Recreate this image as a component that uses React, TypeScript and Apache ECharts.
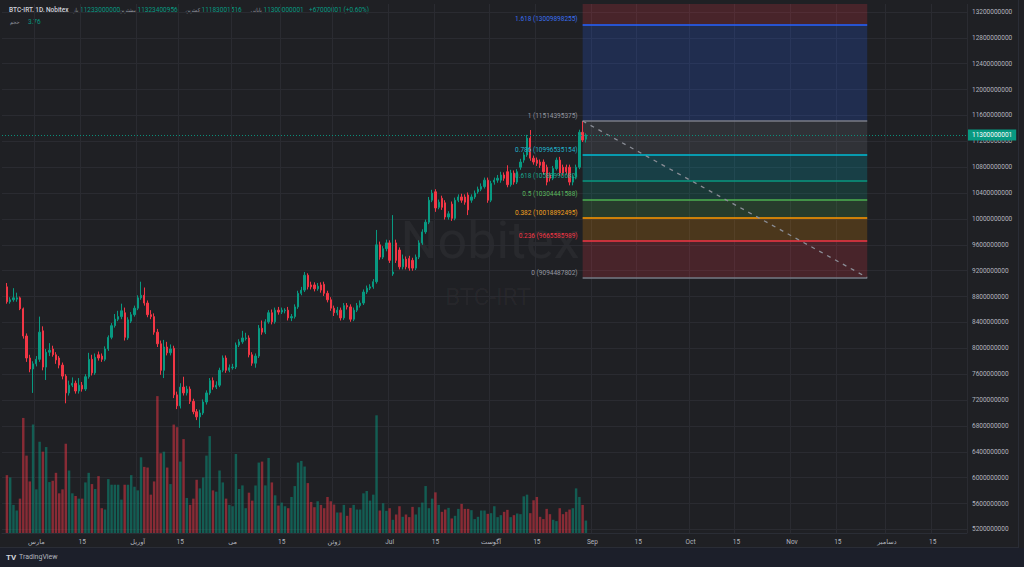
import React, { useEffect, useRef } from 'react';
import * as echarts from 'echarts';

// ---------- DATA ----------
const PRICE_UNIT = 1e8; // OHLC arrays are in units of 100,000,000 IRT

const opens = [
  89.5, 87.2, 87.5, 87.6, 87.8, 86.1, 81.9, 78.5, 76.8, 77.6,
  78.3, 82.7, 77.1, 79.4, 79.9, 79.0, 78.5, 77.4, 75.7, 73.1,
  74.3, 74.6, 73.4, 74.3, 73.7, 75.6, 78.3, 76.2, 79.0, 78.8,
  78.3, 79.9, 81.7, 83.5, 84.5, 84.9, 85.5, 81.6, 84.2, 85.2,
  86.2, 87.8, 88.2, 87.0, 85.2, 84.9, 82.5, 80.7, 76.6, 80.2,
  79.3, 80.0, 72.8, 71.1, 74.0, 73.1, 73.7, 71.8, 70.2, 69.4,
  70.0, 71.7, 73.1, 75.0, 74.0, 74.3, 76.6, 78.5, 76.6, 77.0,
  77.1, 80.5, 81.0, 81.5, 81.6, 79.0, 77.7, 78.8, 83.1, 82.5,
  84.1, 85.5, 84.1, 85.9, 85.6, 85.8, 85.9, 84.7, 84.9, 86.4,
  88.5, 89.0, 91.3, 89.8, 89.8, 89.2, 89.8, 89.9, 88.5, 87.5,
  86.2, 85.5, 85.9, 84.7, 86.6, 86.4, 84.5, 85.9, 86.6, 87.0,
  88.7, 89.3, 89.5, 90.3, 96.0, 94.1, 95.4, 96.3, 91.5, 96.3,
  95.2, 92.6, 93.8, 93.9, 93.6, 92.4, 94.1, 96.3, 98.0, 99.5,
  102.9, 104.2, 101.8, 103.2, 102.5, 100.3, 102.3, 100.1, 102.9, 103.4,
  103.4, 103.7, 102.9, 103.4, 104.2, 104.6, 105.0, 106.0, 102.9, 105.7,
  106.0, 106.0, 106.8, 107.3, 105.3, 107.1, 105.7, 108.0, 109.1, 109.9,
  112.5, 109.4, 109.1, 108.8, 108.8, 108.0, 106.8, 106.3, 107.8, 109.1,
  108.0, 108.0, 108.0, 105.7, 106.5, 108.0, 113.4, 112.33,
];

const closes = [
  87.2, 87.5, 87.8, 87.8, 86.1, 81.9, 78.5, 76.8, 77.6, 78.3,
  82.5, 77.1, 79.4, 79.7, 79.0, 78.2, 77.4, 75.7, 73.1, 74.3,
  74.6, 73.4, 74.3, 73.7, 75.6, 78.3, 76.2, 78.6, 78.5, 78.3,
  79.9, 81.7, 83.5, 84.5, 84.9, 85.8, 81.7, 84.4, 85.2, 86.2,
  87.8, 88.2, 87.0, 85.2, 84.9, 82.5, 80.7, 76.6, 80.2, 79.3,
  79.9, 72.8, 71.1, 74.0, 73.1, 73.7, 71.8, 70.2, 69.4, 70.0,
  71.7, 73.1, 75.0, 74.0, 74.3, 76.6, 78.5, 76.6, 77.0, 77.1,
  80.5, 81.0, 81.6, 81.6, 79.0, 77.7, 78.8, 83.1, 82.5, 84.1,
  85.5, 84.1, 85.9, 85.6, 85.9, 85.9, 84.7, 84.9, 86.4, 88.5,
  89.0, 91.3, 89.5, 89.5, 89.2, 89.6, 89.0, 88.5, 87.5, 86.2,
  85.5, 85.9, 84.7, 86.6, 86.4, 84.5, 85.9, 86.6, 87.0, 88.7,
  89.3, 89.5, 90.3, 96.0, 94.1, 95.4, 96.3, 93.6, 91.8, 93.6,
  92.6, 93.8, 92.6, 92.4, 92.4, 94.1, 96.3, 98.0, 99.5, 102.9,
  104.0, 101.7, 102.6, 101.8, 100.3, 100.8, 100.1, 102.9, 103.4, 102.9,
  102.6, 101.4, 103.4, 104.0, 104.6, 105.0, 106.0, 102.9, 105.5, 106.0,
  106.3, 106.8, 106.3, 105.3, 107.1, 105.7, 107.3, 108.8, 109.9, 112.5,
  109.4, 108.8, 108.6, 108.3, 107.3, 105.7, 106.3, 107.8, 109.1, 107.1,
  107.1, 107.3, 105.7, 106.5, 108.0, 113.4, 112.2, 113.00000001,
];

const lows = [
  86.9, 86.9, 87.2, 87.2, 85.9, 81.5, 77.9, 76.3, 73.1, 77.2,
  77.9, 76.6, 75.1, 78.8, 78.7, 77.6, 76.9, 75.2, 71.5, 72.7,
  74.0, 73.0, 73.0, 73.3, 73.4, 75.3, 75.8, 75.9, 78.1, 77.9,
  78.0, 79.6, 81.4, 83.2, 84.2, 84.5, 81.2, 81.3, 83.9, 84.9,
  85.9, 87.5, 86.6, 84.8, 84.5, 82.1, 80.2, 75.9, 75.4, 78.9,
  78.9, 72.3, 70.6, 70.7, 72.7, 72.7, 71.4, 69.8, 68.9, 67.7,
  69.7, 71.3, 72.8, 73.6, 73.7, 74.0, 76.3, 76.2, 76.3, 76.7,
  76.8, 80.2, 80.7, 81.2, 78.6, 77.3, 77.0, 78.5, 82.1, 82.2,
  83.8, 83.7, 83.8, 85.2, 85.3, 85.4, 84.3, 84.2, 84.6, 86.1,
  88.2, 88.7, 89.1, 89.1, 88.8, 88.9, 88.6, 88.1, 87.1, 85.8,
  85.0, 85.1, 84.3, 84.4, 86.0, 84.1, 84.2, 85.6, 86.3, 86.7,
  88.4, 89.0, 89.2, 90.0, 93.7, 93.8, 95.0, 93.2, 91.2, 93.2,
  92.2, 92.2, 92.2, 92.0, 92.0, 92.1, 93.8, 96.0, 97.7, 99.2,
  102.6, 101.1, 101.5, 101.4, 99.9, 99.9, 99.7, 99.8, 102.6, 102.5,
  102.2, 100.6, 102.5, 103.1, 103.9, 104.3, 104.7, 102.5, 102.6, 105.3,
  105.6, 105.6, 105.9, 104.9, 105.0, 105.3, 105.4, 107.6, 108.7, 109.6,
  109.0, 108.4, 108.2, 107.9, 106.9, 105.2, 105.8, 106.0, 107.5, 106.7,
  106.7, 106.9, 105.2, 105.2, 106.2, 107.7, 111.9, 111.83001516,
];

const highs = [
  90.1, 87.9, 89.3, 88.6, 88.0, 86.3, 82.3, 79.0, 78.0, 78.8,
  84.9, 83.4, 79.9, 80.8, 80.4, 79.4, 78.8, 77.8, 76.0, 75.0,
  75.5, 75.0, 75.4, 74.8, 76.0, 79.3, 79.0, 79.2, 79.5, 79.2,
  80.3, 82.0, 83.9, 85.3, 85.8, 86.9, 86.3, 84.8, 85.6, 86.6,
  88.2, 90.3, 89.4, 87.4, 85.9, 85.4, 83.0, 81.2, 81.3, 81.0,
  80.6, 80.4, 73.3, 74.6, 75.6, 74.2, 74.1, 72.2, 70.6, 70.5,
  72.1, 73.5, 75.4, 75.5, 74.9, 77.0, 78.9, 78.9, 77.5, 77.6,
  80.9, 81.4, 82.7, 82.4, 82.0, 79.4, 79.2, 83.6, 84.3, 84.5,
  85.9, 86.0, 86.3, 86.4, 86.3, 86.2, 86.4, 85.3, 86.8, 88.9,
  89.5, 91.8, 91.6, 90.3, 90.2, 90.1, 90.2, 90.3, 88.9, 87.9,
  86.6, 86.4, 86.3, 87.0, 87.0, 86.8, 86.3, 87.0, 87.4, 89.1,
  89.7, 89.9, 90.7, 98.3, 96.5, 95.8, 96.8, 96.7, 100.6, 96.8,
  95.6, 94.5, 94.2, 94.3, 94.0, 94.5, 96.7, 98.4, 99.9, 103.4,
  104.5, 104.6, 103.0, 103.6, 102.9, 101.2, 102.7, 103.3, 103.8, 103.9,
  103.8, 104.1, 103.8, 104.4, 105.0, 105.5, 106.4, 106.4, 105.9, 106.4,
  106.8, 107.3, 107.2, 108.3, 107.6, 107.5, 107.7, 109.3, 110.3, 113.0,
  113.75, 109.8, 109.5, 109.2, 109.2, 108.4, 107.2, 108.2, 109.5, 109.6,
  108.4, 108.4, 108.4, 106.9, 108.4, 113.8, 115.14395375, 113.23400956,
];

const volumes = [
  17.5, 16.8, 8.5, 6.8, 10.4, 34.8, 23.4, 15.6, 32.8, 13.2,
  27.6, 24.6, 26.0, 15.4, 15.8, 18.2, 12.0, 13.2, 27.0, 18.9,
  12.0, 11.2, 10.4, 10.4, 15.3, 18.2, 14.8, 13.3, 17.2, 7.5,
  7.1, 16.3, 14.6, 14.6, 14.6, 10.1, 14.6, 14.6, 17.5, 14.0,
  12.9, 22.9, 20.0, 19.8, 11.6, 15.6, 41.4, 24.1, 24.6, 19.8,
  14.8, 32.8, 32.0, 21.6, 28.4, 10.6, 8.5, 10.4, 16.1, 13.5,
  16.8, 23.4, 29.3, 12.9, 12.5, 18.9, 15.3, 10.4, 8.5, 8.1,
  23.9, 13.3, 14.4, 7.5, 12.2, 9.8, 14.4, 21.3, 21.6, 14.4,
  22.7, 15.3, 11.4, 8.3, 9.2, 8.1, 7.5, 10.9, 14.2, 21.3,
  21.8, 20.1, 15.1, 9.4, 7.8, 9.6, 8.5, 7.5, 10.9, 9.6,
  8.6, 6.2, 6.2, 8.5, 5.2, 7.6, 8.5, 7.1, 7.1, 12.0,
  12.7, 9.8, 11.6, 35.6, 6.8, 9.0, 6.7, 7.5, 4.0, 5.6,
  8.1, 4.9, 5.6, 4.8, 7.9, 5.6, 7.8, 9.2, 14.2, 7.5,
  10.4, 12.3, 8.5, 6.4, 7.1, 7.6, 4.4, 5.2, 7.3, 8.8,
  7.3, 7.3, 6.9, 4.2, 4.9, 6.8, 6.8, 5.8, 6.0, 8.1,
  4.8, 5.4, 6.4, 7.0, 4.8, 5.4, 5.9, 5.7, 11.1, 11.6,
  6.0, 9.9, 10.9, 4.9, 4.2, 7.3, 5.7, 4.0, 3.6,
  7.5, 5.7, 6.4, 7.1, 7.5, 13.5, 10.9, 8.5, 3.76,
];

// time-axis labels: [slot index, text]
const timeLabels: Array<[number, string]> = [
  [10, 'مارس'], [24, '15'], [41, 'آوریل'], [54, '15'], [70, 'می'], [85, '15'],
  [101, 'ژوئن'], [118, 'Jul'], [132, '15'], [149, 'آگوست'], [163, '15'],
  [180, 'Sep'], [194, '15'], [210, 'Oct'], [224, '15'], [241, 'Nov'],
  [255, '15'], [270, 'دسامبر'], [284, '15'],
];

const priceTicks = [
  5200000000, 5600000000, 6000000000, 6400000000, 6800000000, 7200000000,
  7600000000, 8000000000, 8400000000, 8800000000, 9200000000, 9600000000,
  10000000000, 10400000000, 10800000000, 11200000000, 11600000000,
  12000000000, 12400000000, 12800000000, 13200000000,
];

// Fibonacci retracement
const fibRatios = ['0', '0.236', '0.382', '0.5', '0.618', '0.786', '1', '1.618'];
const fibValues = [
  9094487802, 9665585989, 10018892495, 10304441588,
  10589990682, 10996535154, 11514395375, 13009898255,
];
const fibLineColors = ['#787b86', '#f23645', '#ff9800', '#4caf50', '#089981', '#00bcd4', '#787b86', '#2962ff'];
const fibLabelColors = ['#9598a1', '#f23645', '#f0a020', '#5cb85f', '#1aa890', '#1fb3cc', '#9598a1', '#3a6ff0'];
const fibBandColors = [
  'rgba(242,54,69,0.2)', 'rgba(255,152,0,0.2)', 'rgba(76,175,80,0.2)', 'rgba(8,153,129,0.2)',
  'rgba(0,188,212,0.2)', 'rgba(120,123,134,0.2)', 'rgba(41,98,255,0.2)', 'rgba(242,54,69,0.2)',
];

// legend values
const symbolTitle = 'BTC-IRT, 1D, Nobitex';
const lastOpen = '11233000000';
const lastHigh = '11323400956';
const lastLow = '11183001516';
const lastCloseText = '11300000001';
const lastClose = 11300000001;
const lastChange = '+67000001 (+0.60%)';
const lastVolume = 3.76;

// ---------- LAYOUT ----------
const SLOT_COUNT = 295;
const FIRST_SLOT = 1;
const FIB_START = 177;
const FIB_END = 264;
const Y_MIN = 5144300000;
const Y_MAX = 13323700000;
const VOL_MAX = 160;
const FONT = 'Roboto, "DejaVu Sans", sans-serif';
const FA_FONT = '"DejaVu Sans Condensed", "DejaVu Sans", sans-serif';
const UP = '#089981';
const DOWN = '#f23645';
const GRID_COLOR = '#2a2b31';
const AXIS_TEXT = '#b2b5be';

const txt = (x: number, y: number, text: string, fill: string, size = 6.5, weight: any = 'normal', align = 'left', family = FONT) => ({
  type: 'text', x, y, silent: true,
  style: {
    text, fill, fontSize: size, fontFamily: family, fontWeight: weight,
    align, verticalAlign: 'middle', textAlign: align, textVerticalAlign: 'middle',
  },
});

function buildOption() {
  const cats = Array.from({ length: SLOT_COUNT }, (_, i) => String(i));
  const labelMap = new Map<number, string>(timeLabels);

  const candleData = opens.map((o, k) => [
    k + FIRST_SLOT, o * PRICE_UNIT, closes[k] * PRICE_UNIT, lows[k] * PRICE_UNIT, highs[k] * PRICE_UNIT,
  ]);
  const volData = volumes.map((v, k) => ({
    value: [k + FIRST_SLOT, v],
    itemStyle: { color: closes[k] >= opens[k] ? 'rgba(8,153,129,0.5)' : 'rgba(242,54,69,0.5)' },
  }));

  const bandEdges = [...fibValues, Y_MAX];
  const markAreaData = fibBandColors.map((c, i) => [
    { coord: [FIB_START, bandEdges[i]], itemStyle: { color: c } },
    { coord: [FIB_END, bandEdges[i + 1]], itemStyle: { color: c } },
  ]);

  const levelLines = fibValues.map((v, i) => [
    {
      coord: [FIB_START, v],
      lineStyle: { color: fibLineColors[i], width: 1.5, type: 'solid' },
      label: {
        show: true, position: 'start', formatter: `${fibRatios[i]} (${v})`,
        color: fibLabelColors[i], fontSize: 6.5, fontFamily: FONT, distance: 5, offset: [0, -5],
      },
    },
    { coord: [FIB_END, v] },
  ]);

  const diag = [
    { coord: [FIB_START, fibValues[6]], lineStyle: { color: '#8a8d96', width: 1.3, type: [4, 5] }, label: { show: false } },
    { coord: [FIB_END, fibValues[0]] },
  ];

  const priceLine = {
    yAxis: lastClose,
    lineStyle: { color: '#0a8f79', width: 1, type: [1, 2] },
    label: {
      show: true, position: 'end', formatter: lastCloseText, color: '#ffffff',
      backgroundColor: UP, padding: [2, 4, 2, 4], fontSize: 6.5, fontFamily: FONT, distance: 1,
    },
  };

  return {
    animation: false,
    backgroundColor: '#1f2024',
    grid: { left: 2, right: 57, top: 4, bottom: 34, containLabel: false },
    xAxis: [{
      type: 'category', data: cats, boundaryGap: true,
      axisLine: { show: true, lineStyle: { color: '#2a2d35' } },
      axisTick: { show: false },
      axisLabel: {
        interval: (i: number) => labelMap.has(i),
        formatter: (_v: string, i: number) => labelMap.get(i) ?? '',
        color: AXIS_TEXT, fontSize: 6.5, fontFamily: FONT, margin: 5,
      },
      splitLine: { show: true, interval: (i: number) => labelMap.has(i), lineStyle: { color: GRID_COLOR, width: 1 } },
    }],
    yAxis: [
      {
        type: 'value', position: 'right', min: Y_MIN, max: Y_MAX,
        axisLine: { show: false },
        axisTick: { show: false, customValues: priceTicks },
        axisLabel: {
          customValues: priceTicks, formatter: (v: number) => String(Math.round(v)),
          color: AXIS_TEXT, fontSize: 6.5, fontFamily: FONT, margin: 5,
        },
        splitLine: { show: true, lineStyle: { color: GRID_COLOR, width: 1 } },
      },
      { type: 'value', min: 0, max: VOL_MAX, show: false, splitLine: { show: false } },
    ],
    series: [
      {
        type: 'bar', xAxisIndex: 0, yAxisIndex: 1, data: volData, barWidth: '75%',
        encode: { x: 0, y: 1 }, z: 1, silent: true,
        markLine: {
          silent: true, symbol: ['none', 'none'],
          data: [{
            yAxis: lastVolume, lineStyle: { opacity: 0 },
            label: {
              show: true, position: 'end', formatter: String(lastVolume), color: '#ffffff',
              backgroundColor: UP, padding: [2, 4, 2, 4], fontSize: 6.5, fontFamily: FONT, distance: 1,
            },
          }],
        },
      },
      {
        type: 'candlestick', xAxisIndex: 0, yAxisIndex: 0, data: candleData,
        encode: { x: 0, y: [1, 2, 3, 4] }, barWidth: '55%', z: 3, silent: true,
        itemStyle: { color: UP, color0: DOWN, borderColor: UP, borderColor0: DOWN, borderWidth: 1 },
        markArea: { silent: true, data: markAreaData },
        markLine: {
          silent: true, symbol: ['none', 'none'], precision: 0,
          data: [...levelLines, diag, priceLine],
        },
      },
    ],
    graphic: [
      { type: 'rect', silent: true, shape: { x: 0, y: 548, width: 1024, height: 19 }, style: { fill: '#1c1f2a' } },
      { type: 'line', silent: true, shape: { x1: 1018.5, y1: 0, x2: 1018.5, y2: 548 }, style: { stroke: '#2a2d36', lineWidth: 1 } },
      { type: 'line', silent: true, shape: { x1: 0, y1: 547.5, x2: 1019, y2: 547.5 }, style: { stroke: '#2a2d36', lineWidth: 1 } },
      // watermark
      txt(490, 240, 'Nobitex', 'rgba(255,255,255,0.045)', 52, 'normal', 'center'),
      txt(488, 297, 'BTC-IRT', 'rgba(255,255,255,0.045)', 24, 'normal', 'center'),
      // legend row 1 (labels right-aligned just left of their values)
      txt(9, 10, symbolTitle, '#d1d4dc', 6.5, 500),
      txt(78.5, 10, 'باز', '#9598a1', 5.5, 'normal', 'right', FA_FONT),
      txt(80, 10, lastOpen, UP),
      txt(136, 10, 'بیشترین', '#9598a1', 5.5, 'normal', 'right', FA_FONT),
      txt(137.5, 10, lastHigh, UP),
      txt(200, 10, 'کمترین', '#9598a1', 5.5, 'normal', 'right', FA_FONT),
      txt(201.5, 10, lastLow, UP),
      txt(262, 10, 'پایانی', '#9598a1', 5.5, 'normal', 'right', FA_FONT),
      txt(263.5, 10, lastCloseText, UP),
      txt(309, 10, lastChange, UP),
      // legend row 2
      txt(10, 22, 'حجم', '#9598a1', 5.5, 'normal', 'left', FA_FONT),
      txt(28, 22, String(lastVolume), UP),
      // logo
      txt(6, 557, 'TV', '#d1d4dc', 8, 'bold'),
      txt(19, 557, 'TradingView', '#b2b5be', 7),
    ],
  };
}

export default function App() {
  const ref = useRef<HTMLDivElement>(null);
  useEffect(() => {
    if (!ref.current) return;
    const chart = echarts.init(ref.current, null, { renderer: 'svg' });
    chart.setOption(buildOption() as any);
    return () => chart.dispose();
  }, []);
  return (
    <div
      ref={ref}
      style={{ position: 'fixed', left: 0, top: 0, width: 1024, height: 567, background: '#1f2024' }}
    />
  );
}
